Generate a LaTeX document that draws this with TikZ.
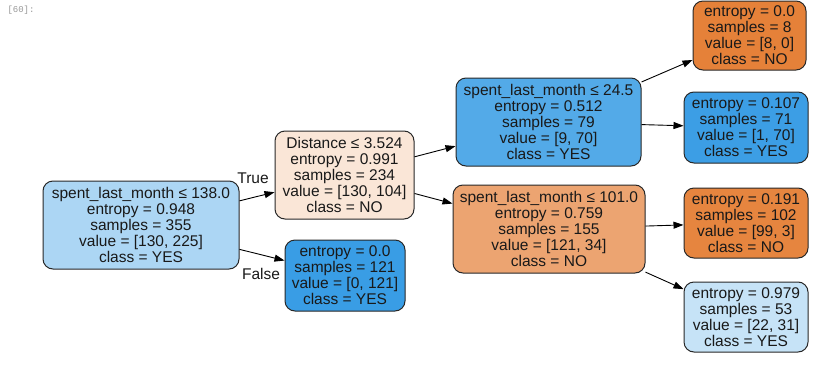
\documentclass[tikz,border=0pt]{standalone}
\usepackage{fontspec}
\setmainfont{Liberation Sans}
\newfontfamily\monof{Liberation Mono}
\usetikzlibrary{arrows.meta}
\definecolor{cRoot}{RGB}{172,214,244}
\definecolor{cDist}{RGB}{250,230,215}
\definecolor{cLeafA}{RGB}{57,157,229}
\definecolor{cNa}{RGB}{83,170,232}
\definecolor{cNb}{RGB}{236,164,113}
\definecolor{cLa}{RGB}{229,129,57}
\definecolor{cLb}{RGB}{60,158,229}
\definecolor{cLc}{RGB}{230,133,63}
\definecolor{cLd}{RGB}{198,227,247}
\definecolor{edgegray}{RGB}{40,40,40}
\tikzset{
  treenode/.style={draw=edgegray, line width=1pt, rounded corners=10pt, align=center,
    inner sep=0pt, font=\fontsize{15.5}{16}\selectfont, text=black!90},
  edge/.style={-{Triangle[length=10pt,width=7pt]}, line width=0.9pt, draw=black},
  elabel/.style={font=\fontsize{15.5}{16}\selectfont, text=black!90}
}
\begin{document}
\begin{tikzpicture}[x=1pt,y=-1pt]
\fill[white] (0,0) rectangle (840,367);
\useasboundingbox (0,0) rectangle (840,367);
\node[font=\monof\fontsize{9}{10}\selectfont, text=black!40, anchor=west] (prompt) at (4,10) {[60]:};

\node[treenode, fill=cRoot, minimum width=196pt, minimum height=88pt] (root) at (141,225)
  {spent\_last\_month ≤ 138.0\\entropy = 0.948\\samples = 355\\value = [130, 225]\\class = YES};
\node[treenode, fill=cDist, minimum width=139pt, minimum height=88pt] (dist) at (344.5,175)
  {Distance ≤ 3.524\\entropy = 0.991\\samples = 234\\value = [130, 104]\\class = NO};
\node[treenode, fill=cLeafA, minimum width=120pt, minimum height=71pt] (leafA) at (345,275.5)
  {entropy = 0.0\\samples = 121\\value = [0, 121]\\class = YES};
\node[treenode, fill=cNa, minimum width=185pt, minimum height=88pt] (na) at (548.5,122)
  {spent\_last\_month ≤ 24.5\\entropy = 0.512\\samples = 79\\value = [9, 70]\\class = YES};
\node[treenode, fill=cNb, minimum width=192pt, minimum height=88pt] (nb) at (549,229)
  {spent\_last\_month ≤ 101.0\\entropy = 0.759\\samples = 155\\value = [121, 34]\\class = NO};
\node[treenode, fill=cLa, minimum width=113pt, minimum height=69pt] (la) at (749.5,35.5)
  {entropy = 0.0\\samples = 8\\value = [8, 0]\\class = NO};
\node[treenode, fill=cLb, minimum width=124pt, minimum height=71pt] (lb) at (746,127.5)
  {entropy = 0.107\\samples = 71\\value = [1, 70]\\class = YES};
\node[treenode, fill=cLc, minimum width=124pt, minimum height=70pt] (lc) at (746,223)
  {entropy = 0.191\\samples = 102\\value = [99, 3]\\class = NO};
\node[treenode, fill=cLd, minimum width=124pt, minimum height=70pt] (ld) at (746,317)
  {entropy = 0.979\\samples = 53\\value = [22, 31]\\class = YES};

\draw[edge] (root) -- (dist);
\draw[edge] (root) -- (leafA);
\draw[edge] (dist) -- (na);
\draw[edge] (dist) -- (nb);
\draw[edge] (na) -- (la);
\draw[edge] (na) -- (lb);
\draw[edge] (nb) -- (lc);
\draw[edge] (nb) -- (ld);

\node[elabel] (tTrue) at (253,178) {True};
\node[elabel] (tFalse) at (261,274) {False};
\end{tikzpicture}
\end{document}
